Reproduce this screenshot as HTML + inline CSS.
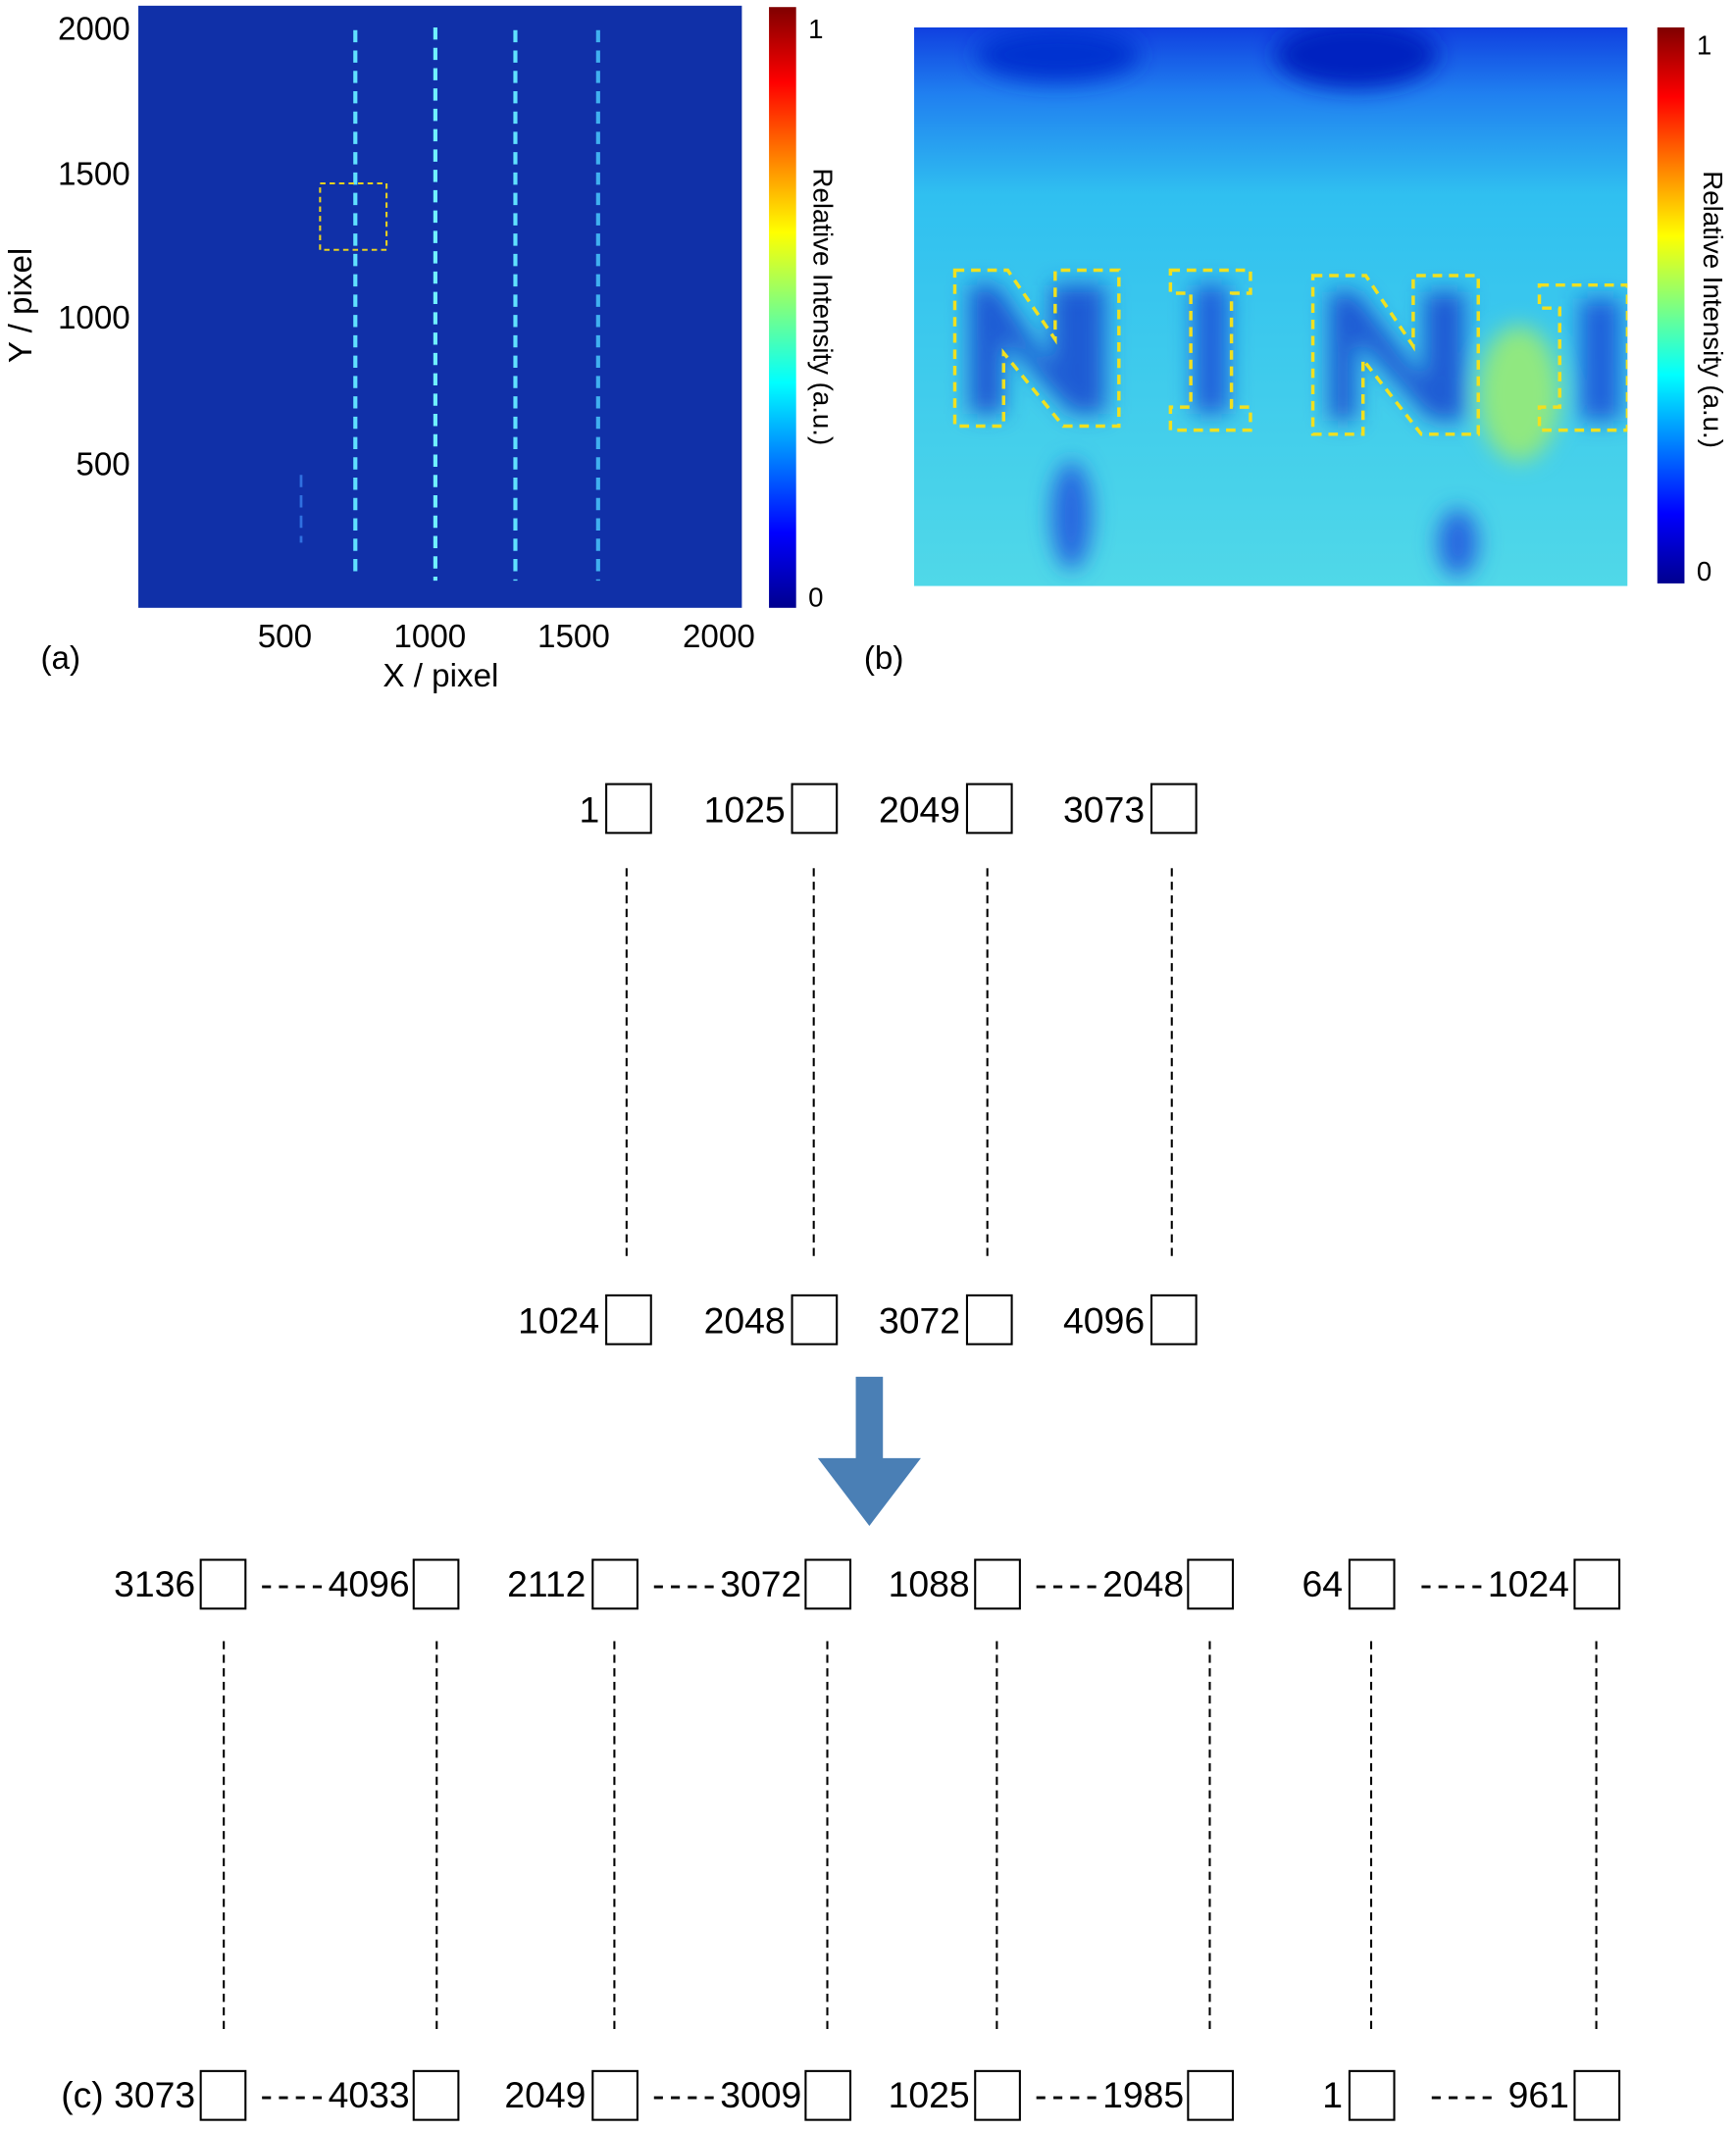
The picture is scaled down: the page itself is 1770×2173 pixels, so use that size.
<!DOCTYPE html>
<html><head><meta charset="utf-8"><style>
html,body{margin:0;padding:0;background:#fff}
svg{display:block}
text{font-family:"Liberation Sans",sans-serif;fill:#000}
.d{letter-spacing:3.5px}
</style></head><body>
<svg width="1770" height="2173" viewBox="0 0 1280 1571" xmlns="http://www.w3.org/2000/svg">
<defs>
<linearGradient id="jet" x1="0" y1="1" x2="0" y2="0">
<stop offset="0" stop-color="#00008f"/><stop offset="0.125" stop-color="#0000ff"/>
<stop offset="0.375" stop-color="#00ffff"/><stop offset="0.625" stop-color="#ffff00"/>
<stop offset="0.875" stop-color="#ff0000"/><stop offset="1" stop-color="#800000"/>
</linearGradient>
<linearGradient id="bg" x1="0" y1="0" x2="0" y2="1">
<stop offset="0" stop-color="#1040e0"/><stop offset="0.12" stop-color="#2080f0"/>
<stop offset="0.3" stop-color="#30c0f0"/><stop offset="1" stop-color="#50d8e8"/>
</linearGradient>
<filter id="bl"><feGaussianBlur stdDeviation="8"/></filter>
</defs>
<rect x="102" y="4" width="445" height="444" fill="#1030a8"/>
<g stroke-width="3" stroke-dasharray="9 6" fill="none">
<line x1="262" y1="22" x2="262" y2="425" stroke="#60e0ff"/>
<line x1="321" y1="20" x2="321" y2="428" stroke="#70f0ff"/>
<line x1="380" y1="22" x2="380" y2="428" stroke="#60e0ff"/>
<line x1="441" y1="22" x2="441" y2="428" stroke="#40b0f0"/>
<line x1="222" y1="350" x2="222" y2="400" stroke="#3070e0" stroke-width="2"/>
</g>
<rect x="236" y="135" width="49" height="49" fill="none" stroke="#e8d020" stroke-width="1.5" stroke-dasharray="4 3"/>
<rect x="567" y="5" width="20" height="443" fill="url(#jet)"/>
<text x="596" y="28" font-size="20">1</text>
<text x="596" y="447" font-size="20">0</text>
<text font-size="20" transform="translate(600,226) rotate(90)" text-anchor="middle">Relative Intensity (a.u.)</text>
<g font-size="24" text-anchor="end">
<text x="96" y="29">2000</text><text x="96" y="136">1500</text><text x="96" y="242">1000</text><text x="96" y="350">500</text>
</g>
<g font-size="24" text-anchor="middle">
<text x="210" y="477">500</text><text x="317" y="477">1000</text><text x="423" y="477">1500</text><text x="530" y="477">2000</text>
<text x="325" y="506">X / pixel</text>
</g>
<text font-size="24" text-anchor="middle" transform="translate(23,225) rotate(-90)">Y / pixel</text>
<text x="30" y="493" font-size="24">(a)</text>
<svg x="674" y="20" width="526" height="412" viewBox="674 20 526 412">
<rect x="674" y="20" width="526" height="412" fill="url(#bg)"/>
<g filter="url(#bl)">
<ellipse cx="1000" cy="40" rx="60" ry="25" fill="#0020c0"/>
<ellipse cx="780" cy="40" rx="60" ry="20" fill="#0030d0"/>
<ellipse cx="1120" cy="290" rx="30" ry="50" fill="#90e880"/>
<polygon points="715,210 735,210 775,270 775,210 815,210 815,305 790,305 740,250 740,305 715,305" fill="#1848d0" opacity="0.85"/>
<rect x="880" y="210" width="26" height="95" fill="#1850d8" opacity="0.85"/>
<polygon points="980,215 1000,215 1050,280 1050,215 1080,215 1080,310 1055,310 1000,250 1000,310 980,310" fill="#1848d0" opacity="0.85"/>
<rect x="1165" y="220" width="30" height="90" fill="#1850d8" opacity="0.85"/>
<ellipse cx="790" cy="380" rx="15" ry="40" fill="#2868e0"/>
<ellipse cx="1075" cy="400" rx="15" ry="25" fill="#2868e0"/>
</g>
<g fill="none" stroke="#f0e020" stroke-width="2.5" stroke-dasharray="7 5">
<polygon points="704,199 743,199 778,250 778,199 825,199 825,314 784,314 740,260 740,314 704,314"/>
<polygon points="863,199 922,199 922,216 908,216 908,300 922,300 922,317 863,317 863,300 878,300 878,216 863,216"/>
<polygon points="968,203 1007,203 1042,255 1042,203 1090,203 1090,320 1048,320 1005,265 1005,320 968,320"/>
<polygon points="1135,210 1200,210 1200,317 1135,317 1135,300 1150,300 1150,227 1135,227"/>
</g>
</svg>
<rect x="1222" y="20" width="20" height="410" fill="url(#jet)"/>
<text x="1251" y="40" font-size="20">1</text>
<text x="1251" y="428" font-size="20">0</text>
<text font-size="20" transform="translate(1256,228) rotate(90)" text-anchor="middle">Relative Intensity (a.u.)</text>
<text x="637" y="493" font-size="24">(b)</text>
<g fill="none" stroke="#000" stroke-width="1.5">
<rect x="447" y="578" width="33" height="36"/><rect x="584" y="578" width="33" height="36"/>
<rect x="713" y="578" width="33" height="36"/><rect x="849" y="578" width="33" height="36"/>
<rect x="447" y="955" width="33" height="36"/><rect x="584" y="955" width="33" height="36"/>
<rect x="713" y="955" width="33" height="36"/><rect x="849" y="955" width="33" height="36"/>
<g stroke-dasharray="6 4">
<line x1="462" y1="640" x2="462" y2="930"/><line x1="600" y1="640" x2="600" y2="930"/>
<line x1="728" y1="640" x2="728" y2="930"/><line x1="864" y1="640" x2="864" y2="930"/>
<line x1="165" y1="1210" x2="165" y2="1500"/><line x1="322" y1="1210" x2="322" y2="1500"/>
<line x1="453" y1="1210" x2="453" y2="1500"/><line x1="610" y1="1210" x2="610" y2="1500"/>
<line x1="735" y1="1210" x2="735" y2="1500"/><line x1="892" y1="1210" x2="892" y2="1500"/>
<line x1="1011" y1="1210" x2="1011" y2="1500"/><line x1="1177" y1="1210" x2="1177" y2="1500"/>
</g>
<rect x="148" y="1150" width="33" height="36"/><rect x="305" y="1150" width="33" height="36"/>
<rect x="437" y="1150" width="33" height="36"/><rect x="594" y="1150" width="33" height="36"/>
<rect x="719" y="1150" width="33" height="36"/><rect x="876" y="1150" width="33" height="36"/>
<rect x="995" y="1150" width="33" height="36"/><rect x="1161" y="1150" width="33" height="36"/>
<rect x="148" y="1527" width="33" height="36"/><rect x="305" y="1527" width="33" height="36"/>
<rect x="437" y="1527" width="33" height="36"/><rect x="594" y="1527" width="33" height="36"/>
<rect x="719" y="1527" width="33" height="36"/><rect x="876" y="1527" width="33" height="36"/>
<rect x="995" y="1527" width="33" height="36"/><rect x="1161" y="1527" width="33" height="36"/>
</g>
<g font-size="27" text-anchor="end">
<text x="442" y="606">1</text><text x="579" y="606">1025</text><text x="708" y="606">2049</text><text x="844" y="606">3073</text>
<text x="442" y="983">1024</text><text x="579" y="983">2048</text><text x="708" y="983">3072</text><text x="844" y="983">4096</text>
<text x="144" y="1177">3136</text><text x="302" y="1177"><tspan class="d">----</tspan>4096</text>
<text x="432" y="1177">2112</text><text x="591" y="1177"><tspan class="d">----</tspan>3072</text>
<text x="715" y="1177">1088</text><text x="873" y="1177"><tspan class="d">----</tspan>2048</text>
<text x="990" y="1177">64</text><text x="1157" y="1177"><tspan class="d">----</tspan>1024</text>
<text x="144" y="1554">(c) 3073</text><text x="302" y="1554"><tspan class="d">----</tspan>4033</text>
<text x="432" y="1554">2049</text><text x="591" y="1554"><tspan class="d">----</tspan>3009</text>
<text x="715" y="1554">1025</text><text x="873" y="1554"><tspan class="d">----</tspan>1985</text>
<text x="990" y="1554">1</text><text x="1157" y="1554"><tspan class="d">----</tspan>    961</text>
</g>
<polygon points="631,1015 651,1015 651,1075 679,1075 641,1125 603,1075 631,1075" fill="#4a7fb5"/>
</svg>
</body></html>
